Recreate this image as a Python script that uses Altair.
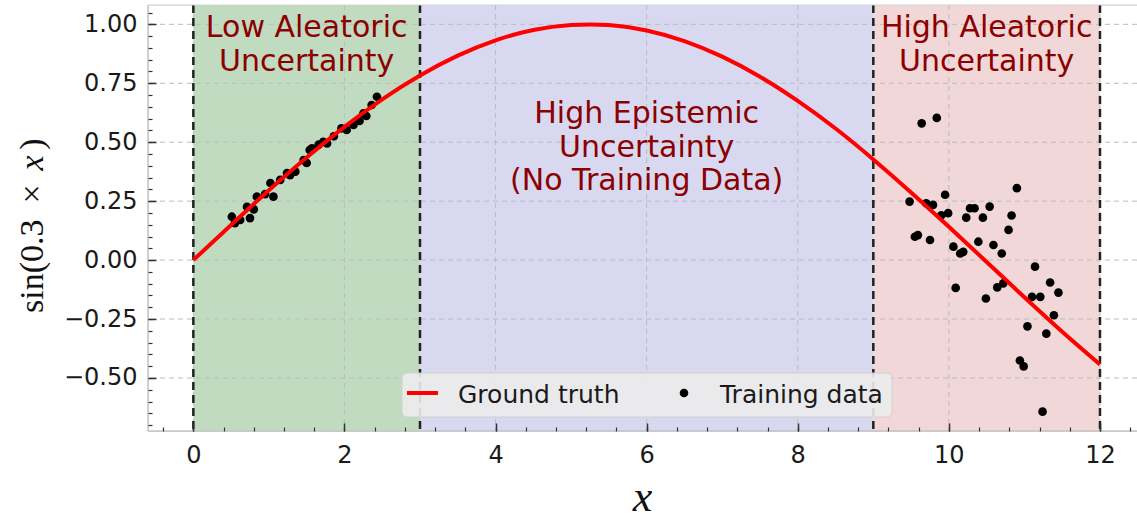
import altair as alt
import pandas as pd

# ---------------- data ----------------
gt_x = [0.0, 0.5, 1.0, 1.5, 2.0, 2.5, 3.0, 3.5, 4.0, 4.5, 5.0, 5.5, 6.0,
        6.5, 7.0, 7.5, 8.0, 8.5, 9.0, 9.5, 10.0, 10.5, 11.0, 11.5, 12.0]
gt_y = [0.0, 0.149, 0.296, 0.435, 0.565, 0.682, 0.783, 0.867, 0.932, 0.976,
        0.997, 0.997, 0.974, 0.929, 0.863, 0.778, 0.675, 0.558, 0.427, 0.287,
        0.141, -0.008, -0.158, -0.304, -0.443]

low_x = [0.51, 0.55, 0.62, 0.71, 0.75, 0.80, 0.84, 0.95, 1.02, 1.06, 1.15, 1.24,
         1.28, 1.35, 1.46, 1.50, 1.54, 1.57, 1.66, 1.72, 1.77, 1.86, 1.96, 2.03,
         2.12, 2.20, 2.25, 2.29, 2.36, 2.43]
low_y = [0.184, 0.157, 0.170, 0.226, 0.178, 0.215, 0.269, 0.280, 0.327, 0.269,
         0.340, 0.369, 0.360, 0.375, 0.424, 0.412, 0.467, 0.474, 0.490, 0.502,
         0.495, 0.525, 0.559, 0.552, 0.573, 0.590, 0.622, 0.611, 0.658, 0.693]

high_x = [9.64, 9.84, 10.90, 9.95, 9.48, 9.70, 9.79, 9.90, 9.99, 10.28, 10.34,
          10.23, 10.45, 10.54, 10.83, 10.79, 9.55, 9.59, 9.75, 10.06, 10.15,
          10.19, 10.39, 10.59, 10.70, 11.14, 10.09, 10.49, 10.64, 10.72, 11.34,
          11.45, 11.10, 11.21, 11.39, 11.04, 11.29, 10.94, 10.99, 11.24]
high_y = [0.580, 0.603, 0.305, 0.277, 0.248, 0.241, 0.234, 0.190, 0.199, 0.220,
          0.220, 0.180, 0.180, 0.227, 0.189, 0.128, 0.099, 0.106, 0.085, 0.057,
          0.028, 0.035, 0.078, 0.064, 0.028, -0.028, -0.118, -0.163, -0.116,
          -0.099, -0.095, -0.138, -0.156, -0.156, -0.234, -0.281, -0.312,
          -0.426, -0.451, -0.643]

region_start = [0, 3, 9]
region_end = [3, 9, 12]
region_color = ["#c1dbc1", "#d8d8f1", "#f1d7d7"]

vline_x = [0, 3, 9, 12]

label_x = [1.5, 6.0, 10.5]
label_y = [0.945, 0.580, 0.945]
label_text = ["Low Aleatoric\nUncertainty",
              "High Epistemic\nUncertainty\n(No Training Data)",
              "High Aleatoric\nUncertainty"]

legend_labels = ["Ground truth", "Training data"]

x_ticks = [0, 2, 4, 6, 8, 10, 12]
y_ticks = [-0.5, -0.25, 0.0, 0.25, 0.5, 0.75, 1.0]
x_minor = [round(-0.4 + 0.4 * i, 2) for i in range(33)]
y_minor = [round(-0.7 + 0.05 * i, 2) for i in range(36)]

# ---------------- tables ----------------
gt_df = pd.DataFrame({"x": gt_x, "y": gt_y})
pts_df = pd.DataFrame({"x": low_x + high_x, "y": low_y + high_y})
reg_df = pd.DataFrame({"start": region_start, "end": region_end, "color": region_color})
vl_df = pd.DataFrame({"x": vline_x})
xg_df = pd.DataFrame({"x": x_ticks})
yg_df = pd.DataFrame({"y": y_ticks})
lab_df = pd.DataFrame({"x": label_x, "y": label_y, "label": label_text})
one = pd.DataFrame({"k": [0]})

W, H = 989, 426
xs = alt.Scale(domain=[-0.6, 12.49], nice=False, zero=False)
ys = alt.Scale(domain=[-0.725, 1.082], nice=False, zero=False)

MAJOR = dict(grid=False, domain=False, title=None, tickSize=8, offset=-8,
             tickColor="#333333", tickWidth=1.5, labelFont="DejaVu Sans",
             labelFontSize=24, labelColor="#1a1a1a", zindex=1)
MINOR = dict(grid=False, domain=False, title=None, labels=False, tickSize=4,
             offset=-4, tickColor="#333333", tickWidth=1.2, zindex=1)

regions = alt.Chart(reg_df).mark_rect(opacity=1).encode(
    x=alt.X("start:Q", scale=xs, axis=None),
    x2="end:Q",
    fill=alt.Fill("color:N", scale=None),
)

xgrid = alt.Chart(xg_df).mark_rule(color="#bcbcbc", strokeWidth=1, strokeDash=[5, 4]).encode(
    x=alt.X("x:Q", scale=xs, axis=None))
ygrid = alt.Chart(yg_df).mark_rule(color="#bcbcbc", strokeWidth=1, strokeDash=[5, 4]).encode(
    y=alt.Y("y:Q", scale=ys, axis=None))

vlines = alt.Chart(vl_df).mark_rule(color="#222222", strokeWidth=2.5,
                                    strokeDash=[8, 5]).encode(
    x=alt.X("x:Q", scale=xs, axis=None)
)

points = alt.Chart(pts_df).mark_circle(color="black", size=75, opacity=1).encode(
    x=alt.X("x:Q", scale=xs,
            axis=alt.Axis(orient="bottom", values=x_ticks, format="d",
                          labelPadding=12, **MAJOR)),
    y=alt.Y("y:Q", scale=ys,
            axis=alt.Axis(orient="left", values=y_ticks, format=".2f",
                          labelPadding=11, **MAJOR)),
)

line = alt.Chart(gt_df).mark_line(color="#ff0000", strokeWidth=4,
                                  interpolate="natural").encode(
    x=alt.X("x:Q", scale=xs, axis=None),
    y=alt.Y("y:Q", scale=ys, axis=None),
)

labels = alt.Chart(lab_df).mark_text(
    lineBreak="\n", align="center", baseline="alphabetic", font="DejaVu Sans",
    fontSize=30, lineHeight=33.5, color="#8b0000"
).encode(
    x=alt.X("x:Q", scale=xs, axis=alt.Axis(orient="bottom", values=x_minor, **MINOR)),
    y=alt.Y("y:Q", scale=ys, axis=alt.Axis(orient="left", values=y_minor, **MINOR)),
    text="label:N",
)

# legend
leg_box = alt.Chart(one).mark_rect(fill="#ececec", fillOpacity=0.9, stroke="#d0d0d0",
                                   strokeWidth=1, cornerRadius=5).encode(
    x=alt.value(254), x2=alt.value(744), y=alt.value(368), y2=alt.value(412))
leg_line = alt.Chart(one).mark_rule(color="#ff0000", strokeWidth=4).encode(
    x=alt.value(259), x2=alt.value(290), y=alt.value(388))
leg_dot = alt.Chart(one).mark_circle(color="black", size=75, opacity=1).encode(
    x=alt.value(536), y=alt.value(388))
leg_t1 = alt.Chart(one).mark_text(align="left", baseline="alphabetic",
                                  font="DejaVu Sans", fontSize=25, color="#1a1a1a").encode(
    x=alt.value(310), y=alt.value(398), text=alt.value(legend_labels[0]))
leg_t2 = alt.Chart(one).mark_text(align="left", baseline="alphabetic",
                                  font="DejaVu Sans", fontSize=25, color="#1a1a1a").encode(
    x=alt.value(572), y=alt.value(398), text=alt.value(legend_labels[1]))

# axis titles (math-style serif)
def ytitle(txt, ypos, align, italic=False):
    return alt.Chart(one).mark_text(
        angle=270, align=align, baseline="alphabetic", font="Liberation Serif",
        fontSize=34, fontStyle="italic" if italic else "normal", color="#111111"
    ).encode(x=alt.value(-105), y=alt.value(ypos), text=alt.value(txt))

yt1 = ytitle("sin(0.3", 308, "left")
yt2 = ytitle("×", 189, "center")
yt3 = ytitle("x", 158, "center", italic=True)
yt4 = ytitle(")", 139, "center")

xtitle = alt.Chart(one).mark_text(
    align="center", baseline="alphabetic", font="Liberation Serif", fontSize=44,
    fontStyle="italic", color="#111111"
).encode(x=alt.value(W / 2), y=alt.value(506), text=alt.value("x"))

# frame
fr_left = alt.Chart(one).mark_rule(color="#c4c4c4", strokeWidth=1.5).encode(
    x=alt.value(0), y=alt.value(0), y2=alt.value(H))
fr_bottom = alt.Chart(one).mark_rule(color="#c4c4c4", strokeWidth=1.5).encode(
    x=alt.value(0), x2=alt.value(W), y=alt.value(H))
fr_top = alt.Chart(one).mark_rule(color="#d4d4d4", strokeWidth=1).encode(
    x=alt.value(0), x2=alt.value(W), y=alt.value(0))

chart = alt.layer(
    regions, xgrid, ygrid, vlines, points, line, labels,
    leg_box, leg_line, leg_dot, leg_t1, leg_t2,
    yt1, yt2, yt3, yt4, xtitle,
    fr_left, fr_bottom, fr_top,
).resolve_axis(
    x="independent", y="independent"
).properties(
    width=W, height=H,
    autosize=alt.AutoSizeParams(type="none"),
    padding={"left": 148, "top": 5, "right": 0, "bottom": 89},
).configure_view(
    fill="#ededed", stroke=None
).configure(
    background="white", font="DejaVu Sans"
)

chart.save("out.html", embed_options={"renderer": "svg", "actions": False})
